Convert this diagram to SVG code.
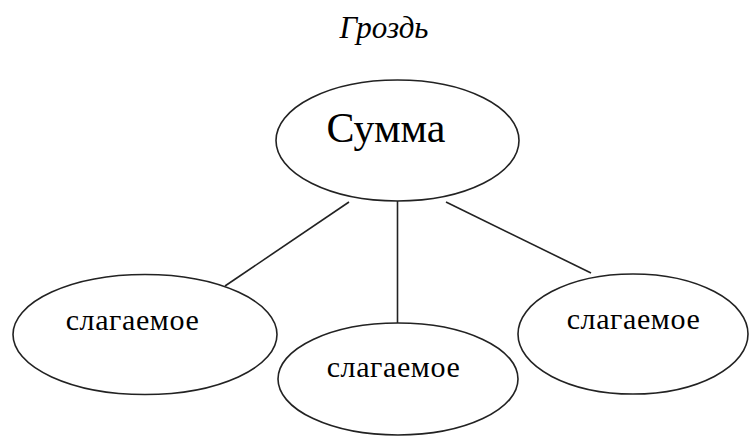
<svg xmlns="http://www.w3.org/2000/svg" width="749" height="438" viewBox="0 0 749 438">
<style>
.n{fill:#fff;stroke:#222;stroke-width:1.6}
.c{stroke:#222;stroke-width:1.6;fill:none}
.t{font-family:"Liberation Serif","Times New Roman",serif;fill:#000;text-anchor:middle}
.s{font-size:30px;letter-spacing:0.6px}
</style>
<rect width="749" height="438" fill="#fff"/>
<text class="t" x="384" y="38" font-size="31" font-style="italic">Гроздь</text>
<g id="connectors">
<line class="c" x1="349" y1="202" x2="225" y2="286"/>
<line class="c" x1="397.5" y1="201" x2="397.5" y2="323"/>
<line class="c" x1="446" y1="202" x2="591" y2="273"/>
</g>
<g id="node-summa">
<ellipse class="n" cx="397.5" cy="140.5" rx="121.5" ry="60.5"/>
<text class="t" x="386" y="142" font-size="42">Сумма</text>
</g>
<g id="node-left">
<ellipse class="n" cx="145" cy="334.5" rx="132" ry="60"/>
<text class="t s" x="132.5" y="330">слагаемое</text>
</g>
<g id="node-middle">
<ellipse class="n" cx="398" cy="379" rx="120" ry="56"/>
<text class="t s" x="393.5" y="377">слагаемое</text>
</g>
<g id="node-right">
<ellipse class="n" cx="633" cy="334" rx="115" ry="60"/>
<text class="t s" x="633.5" y="329">слагаемое</text>
</g>
</svg>
